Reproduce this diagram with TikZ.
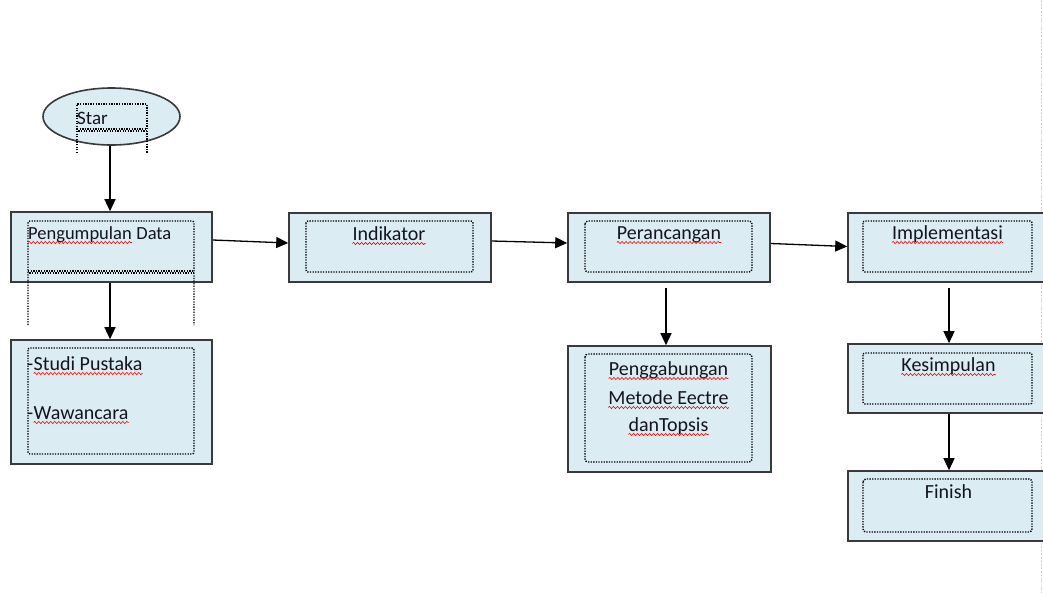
\documentclass[tikz,border=0pt]{standalone}
\usepackage{fontspec}
\setmainfont{Carlito}
\usetikzlibrary{arrows.meta,shapes.geometric,decorations.pathmorphing}
\definecolor{boxfill}{HTML}{DBECF3}
\definecolor{boxline}{HTML}{3A3A3A}
\definecolor{txt}{HTML}{14141E}
\begin{document}
\begin{tikzpicture}[x=1pt,y=-1pt,
  box/.style={draw=boxline,line width=1.6pt,fill=boxfill,inner sep=0pt,rectangle},
  oval/.style={draw=boxline,line width=1.6pt,fill=boxfill,inner sep=0pt,ellipse},
  frame/.style={line width=1.4pt,black,dash pattern=on 1.3pt off 1.3pt},
  lbl/.style={inner sep=0pt,text=txt,font=\fontsize{20}{24}\selectfont},
  wave/.style={red,line width=0.6pt,decorate,decoration={snake,segment length=4pt,amplitude=1.1pt}},
  arr/.style={-{Triangle[length=12pt,width=11pt]},line width=1.3pt,black}]
\useasboundingbox (0,0) rectangle (1043,592);
\clip (0,0) rectangle (1043,592);
\fill[white] (0,0) rectangle (1043,592);
\draw[gray!35,line width=0.8pt,dash pattern=on 2pt off 1.5pt] (1041.5,0) -- (1041.5,592);

% start oval
\node[oval,minimum width=137pt,minimum height=57pt] (star) at (111.5,116.5) {};
\draw[frame] (77,153) -- (77,104) -- (147,104) -- (147,153);
\draw[frame] (77,129) -- (147,129);
\draw[frame,dash phase=1.3pt] (77,131) -- (147,131);
\node[lbl,anchor=base west,font=\fontsize{19}{24}\selectfont] (tstar) at (77,124) {Star};

% left column
\node[box,minimum width=201pt,minimum height=70pt] (pd) at (111.5,247) {};
\draw[frame,rounded corners=2pt] (28,325) -- (28,221) -- (194,221) -- (194,325);
\draw[frame] (28,271) -- (194,271);
\draw[frame,dash phase=1.3pt] (28,273) -- (194,273);
\node[lbl,anchor=base west,font=\fontsize{18.5}{24}\selectfont] (tpd1) at (28,239) {Pengumpulan};
\node[lbl,anchor=base west,font=\fontsize{18.5}{24}\selectfont] (tpd2) at ([xshift=4.2pt]tpd1.base east) {Data};

\node[box,minimum width=201pt,minimum height=124pt] (sp) at (111.5,402) {};
\draw[frame,rounded corners=2pt] (28,348) rectangle (194,454);
\node[lbl,anchor=base west] (tsp0) at (27,370) {-};
\node[lbl,anchor=base west] (tsp) at (tsp0.base east) {Studi Pustaka};
\node[lbl,anchor=base west] (tww0) at (27,419) {-};
\node[lbl,anchor=base west] (tww) at (tww0.base east) {Wawancara};

% second column
\node[box,minimum width=202pt,minimum height=69pt] (ind) at (390,247.5) {};
\draw[frame,rounded corners=2pt] (306,221) rectangle (473,272);
\node[lbl,anchor=base] (tind) at (389,240) {Indikator};

% third column
\node[box,minimum width=202pt,minimum height=69pt] (per) at (669,247.5) {};
\draw[frame,rounded corners=3pt] (585,221) rectangle (752,272);
\node[lbl,anchor=base] (tper) at (669,239) {Perancangan};

\node[box,minimum width=203pt,minimum height=126pt] (pg) at (669.5,409) {};
\draw[frame,rounded corners=3pt] (585,354) rectangle (752,462);
\node[lbl,anchor=base] (tpg1) at (668.5,375) {Penggabungan};
\node[lbl,anchor=base] (tpg2) at (668.5,404) {Metode Eectre};
\node[lbl,anchor=base] (tpg3) at (668.5,431) {danTopsis};

% fourth column
\node[box,minimum width=202pt,minimum height=69pt] (imp) at (949,247.5) {};
\draw[frame,rounded corners=2pt] (863,221) rectangle (1032,272);
\node[lbl,anchor=base] (timp) at (947.5,239) {Implementasi};

\node[box,minimum width=202pt,minimum height=69pt] (kes) at (949,378.5) {};
\draw[frame,rounded corners=2pt] (863,353) rectangle (1032,404);
\node[lbl,anchor=base] (tkes) at (948.5,371) {Kesimpulan};

\node[box,minimum width=202pt,minimum height=70pt] (fin) at (949,506) {};
\draw[frame,rounded corners=3pt] (863,479) rectangle (1032,532);
\node[lbl,anchor=base] (tfin) at (948.5,498) {Finish};

% wavy underlines
\foreach \w in {tpd1,tsp,tww,tind,tper,tpg1,tpg2,tpg3,timp,tkes}
  \draw[wave] ([yshift=-3.5pt]\w.base west) -- ([yshift=-3.5pt]\w.base east);

% connectors
\draw[arr] ([xshift=-1.5pt]star.south) -- ([xshift=-1.5pt]pd.north);
\draw[arr] ([xshift=-1.5pt]pd.south) -- ([xshift=-1.5pt]sp.north);
\draw[arr] ([yshift=7pt]pd.east) -- ([yshift=4.5pt]ind.west);
\draw[arr] ([yshift=6.5pt]ind.east) -- ([yshift=4.5pt]per.west);
\draw[arr] ([yshift=4pt]per.east) -- ([yshift=1pt]imp.west);
\draw[arr] ([xshift=-3pt,yshift=-5pt]per.south) -- ([xshift=-3.5pt]pg.north);
\draw[arr] ([yshift=-5pt]imp.south) -- (kes.north);
\draw[arr] (kes.south) -- (fin.north);
\end{tikzpicture}
\end{document}
